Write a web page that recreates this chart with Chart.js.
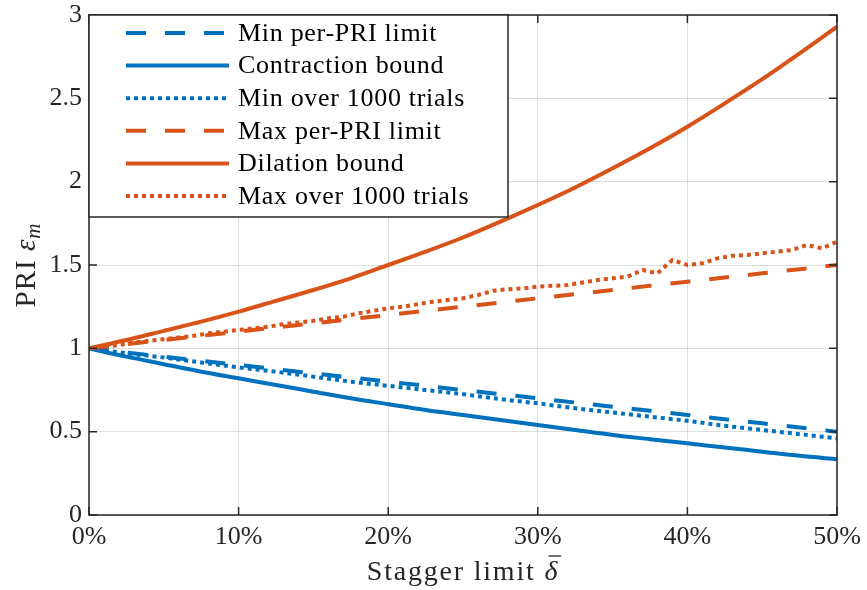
<!DOCTYPE html>
<html>
<head>
<meta charset="utf-8">
<script src="https://cdn.jsdelivr.net/npm/chart.js@4/dist/chart.umd.min.js"></script>
<style>
  html, body { margin: 0; padding: 0; background: #fff; }
  #wrap { width: 867px; height: 590px; }
</style>
</head>
<body>
<div id="wrap"><canvas id="priChart" width="867" height="590"></canvas></div>
<script>
// stagger limit in percent
const deltaCoarse = [0, 2.5, 5, 7.5, 10, 12.5, 15, 17.5, 20, 22.5, 25, 27.5, 30, 32.5, 35, 37.5, 40, 42.5, 45, 47.5, 50];
const deltaFine = [0,1,2,3,4,5,6,7,8,9,10,11,12,13,14,15,16,17,18,19,20,21,22,23,24,25,26,27,28,29,30,31,32,33,34,35,36,37,38,39,40,41,42,43,44,45,46,47,48,49,50];

const minPerPri = [1.00, 0.975, 0.95, 0.925, 0.90, 0.875, 0.85, 0.825, 0.80, 0.775, 0.75, 0.725, 0.70, 0.675, 0.65, 0.625, 0.60, 0.575, 0.55, 0.525, 0.50];
const contraction = [1.00, 0.95, 0.905, 0.86, 0.82, 0.78, 0.74, 0.70, 0.665, 0.63, 0.60, 0.57, 0.54, 0.51, 0.48, 0.455, 0.43, 0.405, 0.38, 0.355, 0.335];
const minTrials = [1.00, 0.97, 0.945, 0.915, 0.885, 0.86, 0.83, 0.80, 0.775, 0.75, 0.725, 0.695, 0.67, 0.64, 0.615, 0.59, 0.565, 0.535, 0.51, 0.485, 0.46];
const maxPerPri = [1.00, 1.025, 1.05, 1.075, 1.10, 1.125, 1.15, 1.175, 1.20, 1.225, 1.25, 1.275, 1.30, 1.325, 1.35, 1.375, 1.40, 1.425, 1.45, 1.475, 1.50];
const dilation = [1.00, 1.05, 1.105, 1.16, 1.22, 1.285, 1.35, 1.42, 1.50, 1.58, 1.665, 1.76, 1.86, 1.965, 2.08, 2.20, 2.33, 2.47, 2.615, 2.77, 2.93];
const maxTrials = [1.00, 1.01, 1.02, 1.035, 1.045, 1.055, 1.065, 1.075, 1.09, 1.10, 1.11, 1.12, 1.13, 1.145, 1.155, 1.165, 1.18, 1.19, 1.21, 1.225,
  1.24, 1.25, 1.265, 1.28, 1.29, 1.30, 1.32, 1.345, 1.355, 1.36, 1.37, 1.375, 1.38, 1.395, 1.41, 1.42, 1.43, 1.47, 1.45, 1.53,
  1.50, 1.51, 1.54, 1.555, 1.56, 1.57, 1.58, 1.59, 1.62, 1.60, 1.64];

const yTicks = [0, 0.5, 1, 1.5, 2, 2.5, 3];
const xTicks = [0, 10, 20, 30, 40, 50];

const blue = '#0072BD';
const orange = '#D95319';
const serif = "'Liberation Serif', 'DejaVu Serif', serif";

function pts(xs, ys) {
  return xs.map((x, i) => ({ x: x, y: ys[i] }));
}

const dashed = [20, 19];
const dotted = [4, 4];

const datasets = [
  { label: 'Min per-PRI limit', data: pts(deltaCoarse, minPerPri), borderColor: blue, borderDash: dashed },
  { label: 'Contraction bound', data: pts(deltaCoarse, contraction), borderColor: blue, borderDash: [], tension: 0.3 },
  { label: 'Min over 1000 trials', data: pts(deltaCoarse, minTrials), borderColor: blue, borderDash: dotted },
  { label: 'Max per-PRI limit', data: pts(deltaCoarse, maxPerPri), borderColor: orange, borderDash: dashed },
  { label: 'Dilation bound', data: pts(deltaCoarse, dilation), borderColor: orange, borderDash: [], tension: 0.3 },
  { label: 'Max over 1000 trials', data: pts(deltaFine, maxTrials), borderColor: orange, borderDash: dotted }
];
datasets.forEach((d, i) => {
  d.borderWidth = 4;
  d.pointRadius = 0;
  d.fill = false;
  d.borderCapStyle = 'butt';
  d.order = datasets.length - i;
});

// frame, inward ticks, legend and axis titles drawn like matlab
const matlabLook = {
  id: 'matlabLook',
  afterDatasetsDraw(chart) {
    const ctx = chart.ctx;
    const a = chart.chartArea;
    const xs = chart.scales.x, ys = chart.scales.y;
    ctx.save();
    ctx.strokeStyle = '#262626';
    ctx.lineWidth = 1.5;
    ctx.setLineDash([]);
    ctx.strokeRect(a.left, a.top, a.right - a.left, a.bottom - a.top);
    const tl = 8;
    ctx.beginPath();
    for (const t of xTicks) {
      const px = xs.getPixelForValue(t);
      ctx.moveTo(px, a.bottom); ctx.lineTo(px, a.bottom - tl);
      ctx.moveTo(px, a.top); ctx.lineTo(px, a.top + tl);
    }
    for (const t of yTicks) {
      const py = ys.getPixelForValue(t);
      ctx.moveTo(a.left, py); ctx.lineTo(a.left + tl, py);
      ctx.moveTo(a.right, py); ctx.lineTo(a.right - tl, py);
    }
    ctx.stroke();

    // legend
    const lx = a.left, ly = a.top, lw = 419, lh = 202;
    ctx.fillStyle = '#fff';
    ctx.fillRect(lx, ly, lw, lh);
    ctx.strokeRect(lx, ly, lw, lh);
    ctx.font = '26px ' + serif;
    ctx.letterSpacing = '0.7px';
    ctx.textBaseline = 'middle';
    ctx.textAlign = 'left';
    chart.data.datasets.forEach((d, i) => {
      const ry = ly + 18 + i * 32.6;
      ctx.strokeStyle = d.borderColor;
      ctx.lineWidth = d.borderWidth;
      ctx.lineCap = 'butt';
      ctx.setLineDash(d.borderDash);
      ctx.beginPath();
      ctx.moveTo(lx + 37, ry);
      ctx.lineTo(lx + 140, ry);
      ctx.stroke();
      ctx.setLineDash([]);
      ctx.fillStyle = '#000';
      ctx.fillText(d.label, lx + 149, ry + 1);
    });
    ctx.restore();
  },
  afterDraw(chart) {
    const ctx = chart.ctx;
    const a = chart.chartArea;
    ctx.save();
    ctx.fillStyle = '#262626';
    ctx.strokeStyle = '#262626';
    ctx.textBaseline = 'alphabetic';
    ctx.textAlign = 'left';
    // x title: Stagger limit \bar{delta}
    const roman = '28px ' + serif;
    const ital = 'italic 28px ' + serif;
    ctx.letterSpacing = '1.8px';
    ctx.font = roman;
    const s1 = 'Stagger limit ';
    const w1 = ctx.measureText(s1).width;
    ctx.font = ital;
    const w2 = ctx.measureText('δ').width;
    let x0 = (a.left + a.right) / 2 - (w1 + w2) / 2;
    const by = 580;
    ctx.font = roman;
    ctx.fillText(s1, x0, by);
    ctx.font = ital;
    ctx.fillText('δ', x0 + w1, by);
    ctx.lineWidth = 1.3;
    ctx.beginPath();
    ctx.moveTo(x0 + w1 + 4, by - 24);
    ctx.lineTo(x0 + w1 + w2 + 2, by - 24);
    ctx.stroke();

    // y title: PRI epsilon_m
    ctx.letterSpacing = '1px';
    ctx.translate(35, 265);
    ctx.rotate(-Math.PI / 2);
    ctx.font = '29px ' + serif;
    const t1 = 'PRI ';
    const tw1 = ctx.measureText(t1).width;
    ctx.font = 'italic 29px ' + serif;
    const tw2 = ctx.measureText('ε').width;
    ctx.font = 'italic 21px ' + serif;
    const tw3 = ctx.measureText('m').width;
    const start = -(tw1 + tw2 + tw3) / 2;
    ctx.font = '29px ' + serif;
    ctx.fillText(t1, start, 0);
    ctx.font = 'italic 29px ' + serif;
    ctx.fillText('ε', start + tw1, 0);
    ctx.font = 'italic 21px ' + serif;
    ctx.fillText('m', start + tw1 + tw2, 5);
    ctx.restore();
  }
};

const chart = new Chart(document.getElementById('priChart').getContext('2d'), {
  type: 'line',
  data: { datasets: datasets },
  options: {
    responsive: false,
    animation: false,
    events: [],
    layout: { padding: { top: 15, right: 30, left: 0, bottom: 0 } },
    plugins: { legend: { display: false }, tooltip: { enabled: false } },
    scales: {
      x: {
        type: 'linear', min: 0, max: 50,
        afterFit: s => { s.height = 75; s.paddingLeft = 0; s.paddingRight = 0; },
        afterBuildTicks: s => { s.ticks = xTicks.map(v => ({ value: v })); },
        grid: { color: 'rgba(0,0,0,0.13)', lineWidth: 1, drawTicks: false },
        border: { display: false },
        ticks: { color: '#262626', font: { family: serif, size: 26 }, padding: 7, maxRotation: 0, callback: v => v + '%' }
      },
      y: {
        type: 'linear', min: 0, max: 3,
        afterFit: s => { s.width = 89; s.paddingTop = 0; s.paddingBottom = 0; },
        afterBuildTicks: s => { s.ticks = yTicks.map(v => ({ value: v })); },
        grid: { color: 'rgba(0,0,0,0.13)', lineWidth: 1, drawTicks: false },
        border: { display: false },
        ticks: { color: '#262626', font: { family: serif, size: 26 }, padding: 7, callback: v => String(v) }
      }
    }
  },
  plugins: [matlabLook]
});
</script>
</body>
</html>
